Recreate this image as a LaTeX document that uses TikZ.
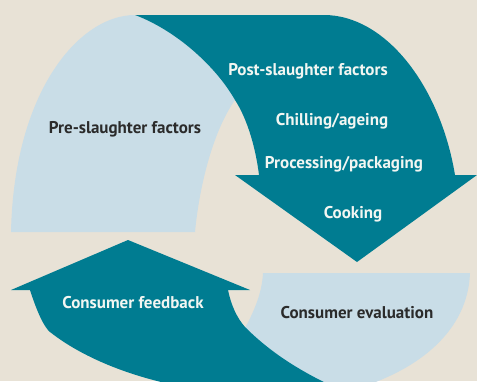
\documentclass[tikz,border=0pt]{standalone}
\usepackage{fontspec}
\setmainfont{PT Sans}
\definecolor{bgc}{HTML}{E8E2D6}
\definecolor{teal}{HTML}{007C91}
\definecolor{lblue}{HTML}{C9DDE7}
\definecolor{dtext}{HTML}{2B2B2B}
\definecolor{wtext}{HTML}{F2F6F2}
\tikzset{
  lbl/.style={font=\bfseries\fontsize{17}{20}\selectfont, inner sep=0pt, anchor=center},
  dark/.style={lbl, text=dtext},
  light/.style={lbl, text=wtext},
}
\begin{document}
\begin{tikzpicture}[x=1pt,y=-1pt]
\useasboundingbox (0,0) rectangle (477,381);
\fill[bgc] (0,0) rectangle (477,381);
\begin{scope}
\clip (0,0) rectangle (477,381);
% light blue top-left
\fill[lblue] (11,232) .. controls (14,90) and (80,15) .. (135,15)
  .. controls (175,30) and (215,65) .. (235,100)
  .. controls (215,128) and (200,180) .. (195,232) -- cycle;
% teal top arrow
\fill[teal] (135,15) -- (324,15) .. controls (385,15) and (440,85) .. (455,175)
  -- (477,175) -- (357,262) -- (235,175) -- (259,175)
  .. controls (256,150) and (248,120) .. (235,100)
  .. controls (215,65) and (175,30) .. (135,15) -- cycle;
% light blue bottom-right
\fill[lblue] (263,273) -- (470,273) .. controls (468,330) and (420,372) .. (345,392)
  -- (300,392) -- (245,328) .. controls (252,315) and (262,295) .. (263,273) -- cycle;
% teal bottom arrow
\fill[teal] (128,240) -- (250,290) -- (228,290)
  .. controls (231,305) and (237,318) .. (245,327)
  .. controls (270,352) and (300,372) .. (345,392)
  -- (220,392) .. controls (150,385) and (88,362) .. (50,332)
  .. controls (45,328) and (38,315) .. (30,290) -- (11,290) -- cycle;
\end{scope}
\node[dark] (pre) at (125,129) {Pre-slaughter factors};
\node[light] (post) at (308,71) {Post-slaughter factors};
\node[light] (chill) at (332,121) {Chilling/ageing};
\node[light] (proc) at (344,164) {Processing/packaging};
\node[light] (cook) at (353,214) {Cooking};
\node[light] (feed) at (133,303) {Consumer feedback};
\node[dark] (eval) at (357,313) {Consumer evaluation};
\end{tikzpicture}
\end{document}
